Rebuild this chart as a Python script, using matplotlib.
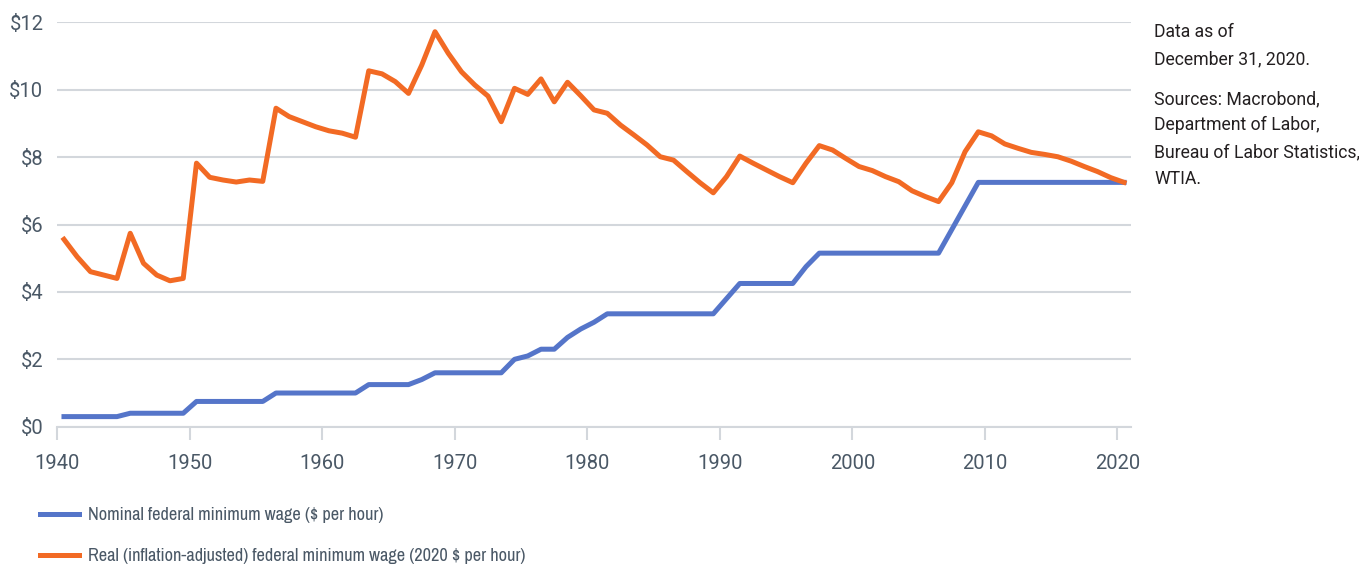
import numpy as np
import matplotlib.pyplot as plt
import matplotlib.ticker as mticker

# Datos anuales (punto a mitad de año)
years = np.arange(1940, 2021)

nominal = [0.30, 0.30, 0.30, 0.30, 0.30, 0.40, 0.40, 0.40, 0.40, 0.40,
           0.75, 0.75, 0.75, 0.75, 0.75, 0.75, 1.00, 1.00, 1.00, 1.00,
           1.00, 1.00, 1.00, 1.25, 1.25, 1.25, 1.25, 1.40, 1.60, 1.60,
           1.60, 1.60, 1.60, 1.60, 2.00, 2.10, 2.30, 2.30, 2.65, 2.90,
           3.10, 3.35, 3.35, 3.35, 3.35, 3.35, 3.35, 3.35, 3.35, 3.35,
           3.80, 4.25, 4.25, 4.25, 4.25, 4.25, 4.75, 5.15, 5.15, 5.15,
           5.15, 5.15, 5.15, 5.15, 5.15, 5.15, 5.15, 5.85, 6.55, 7.25,
           7.25, 7.25, 7.25, 7.25, 7.25, 7.25, 7.25, 7.25, 7.25, 7.25,
           7.25]

real = [5.56, 5.04, 4.60, 4.50, 4.40, 5.74, 4.85, 4.50, 4.33, 4.40,
        7.82, 7.40, 7.32, 7.26, 7.32, 7.28, 9.45, 9.20, 9.05, 8.90,
        8.78, 8.71, 8.59, 10.56, 10.47, 10.24, 9.89, 10.73, 11.72, 11.08,
        10.53, 10.14, 9.81, 9.05, 10.04, 9.86, 10.32, 9.64, 10.22, 9.82,
        9.40, 9.30, 8.95, 8.66, 8.36, 8.01, 7.91, 7.57, 7.24, 6.94,
        7.42, 8.03, 7.82, 7.62, 7.42, 7.24, 7.82, 8.34, 8.21, 7.96,
        7.72, 7.60, 7.42, 7.27, 7.00, 6.83, 6.68, 7.24, 8.16, 8.75,
        8.63, 8.39, 8.26, 8.14, 8.08, 8.01, 7.88, 7.72, 7.57, 7.39,
        7.25]

labels = ['Nominal federal minimum wage ($ per hour)',
          'Real (inflation-adjusted) federal minimum wage (2020 $ per hour)']
note_lines = ['Data as of', 'December 31, 2020.']
source_lines = ['Sources: Macrobond,', 'Department of Labor,',
                'Bureau of Labor Statistics,', 'WTIA.']

AZUL = '#5575c9'
NARANJA = '#f26a24'
GRIS_TXT = '#4a5866'
GRIS_GRID = '#d3d7dc'

W, H = 1359, 564
plt.rcParams['font.family'] = ['Roboto', 'DejaVu Sans']

fig = plt.figure(figsize=(W / 100, H / 100), dpi=100)
ax = fig.add_axes([0.0422, 0.2434, 0.7898, 0.7171])

x = years + 0.5
l1, = ax.plot(x, nominal, color=AZUL, lw=3.6, label=labels[0])
l2, = ax.plot(x, real, color=NARANJA, lw=3.6, label=labels[1])

ax.set_xlim(1940, 2021)
ax.set_ylim(0, 12)
ax.set_xticks(range(1940, 2021, 10))
ax.set_yticks(range(0, 13, 2))
ax.yaxis.set_major_formatter(mticker.FuncFormatter(lambda v, p: f'${v:.0f}'))

ax.grid(axis='y', color=GRIS_GRID, lw=1.5)
ax.set_axisbelow(True)
for s in ['top', 'right', 'left']:
    ax.spines[s].set_visible(False)
ax.spines['bottom'].set_color(GRIS_GRID)
ax.spines['bottom'].set_linewidth(1.5)
ax.tick_params(axis='x', length=9.5, width=1.5, color=GRIS_GRID,
               labelsize=14.5, labelcolor=GRIS_TXT, pad=10)
ax.tick_params(axis='y', length=0, labelsize=14.5, labelcolor=GRIS_TXT, pad=10)

# Texto de la derecha (una línea por texto, baseline en px)
for txt, yb in zip(note_lines + source_lines, [37.3, 64, 104, 130.5, 157, 183.5]):
    fig.text(1154 / W, 1 - yb / H, txt, ha='left', va='baseline',
             fontsize=12.7, color='#231f20')

fig.legend(handles=[l1, l2], loc='upper left', bbox_to_anchor=(40 / W, 1 - 507 / H),
           frameon=False, labelcolor=GRIS_TXT,
           prop={'family': ['Archivo Narrow', 'Roboto'], 'size': 13.2},
           handlelength=2.1, handletextpad=0.5, labelspacing=1.38,
           borderaxespad=0, borderpad=0)

fig.savefig('out.png', dpi=100)
